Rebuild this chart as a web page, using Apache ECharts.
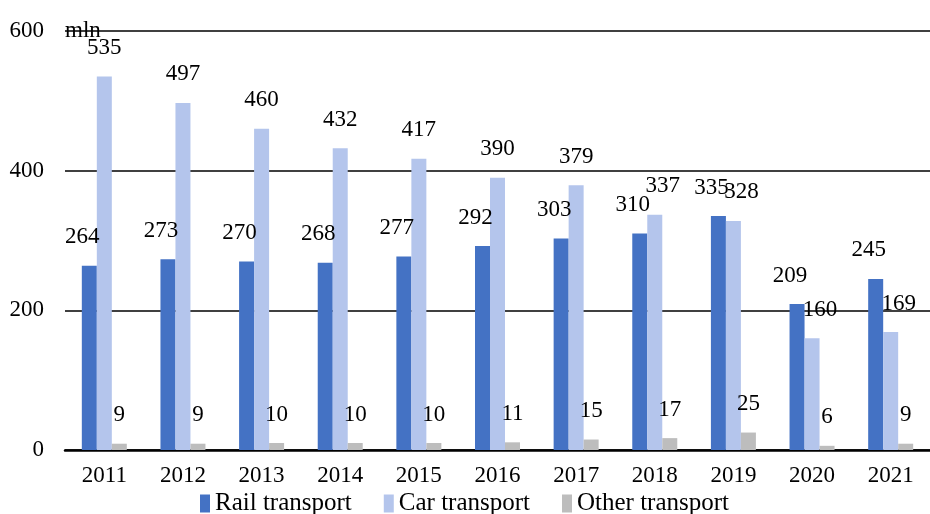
<!DOCTYPE html>
<html>
<head>
<meta charset="utf-8">
<script src="https://cdn.jsdelivr.net/npm/echarts@6/dist/echarts.min.js"></script>
<style>
  html, body { margin: 0; padding: 0; background: #fff; }
  #main { width: 930px; height: 514px; }
</style>
</head>
<body>
<div id="main"></div>
<script>
var years = ['2011', '2012', '2013', '2014', '2015', '2016', '2017', '2018', '2019', '2020', '2021'];
var rail = [264, 273, 270, 268, 277, 292, 303, 310, 335, 209, 245];
var car = [535, 497, 460, 432, 417, 390, 379, 337, 328, 160, 169];
var other = [9, 9, 10, 10, 10, 11, 15, 17, 25, 6, 9];
var yTicks = [0, 200, 400, 600];

var serif = '"Liberation Serif", "DejaVu Serif", serif';

var chart = echarts.init(document.getElementById('main'));

// car labels in the last years were nudged right in the original
var carData = car.map(function (v, i) {
  return i >= 7 ? { value: v, label: { offset: [8, 0] } } : v;
});

var option = {
  backgroundColor: '#fff',
  animation: false,
  textStyle: { fontFamily: serif },
  grid: { left: 65, top: 31, width: 871, height: 419 },
  legend: {
    left: 195,
    top: 486,
    itemWidth: 10,
    itemHeight: 18,
    itemGap: 32,
    icon: 'rect',
    textStyle: { fontFamily: serif, fontSize: 25, color: '#000' },
    data: ['Rail transport', 'Car transport', 'Other transport']
  },
  xAxis: {
    type: 'category',
    data: years,
    axisLine: { lineStyle: { color: '#000', width: 2.5 } },
    axisTick: { show: false },
    axisLabel: { fontFamily: serif, fontSize: 23, color: '#000', margin: 14 }
  },
  yAxis: {
    type: 'value',
    min: yTicks[0],
    max: yTicks[yTicks.length - 1],
    interval: 200,
    name: 'mln',
    nameLocation: 'end',
    nameGap: 0,
    nameTextStyle: { fontFamily: serif, fontSize: 23, color: '#000', align: 'left', verticalAlign: 'middle' },
    axisLine: { show: false },
    axisTick: { show: false },
    splitLine: { lineStyle: { color: '#000', width: 1.5 } },
    axisLabel: { fontFamily: serif, fontSize: 23, color: '#000', margin: 21 }
  },
  series: [
    {
      name: 'Rail transport',
      type: 'bar',
      data: rail,
      barWidth: 15,
      barGap: '0%',
      itemStyle: { color: '#4472C4' },
      label: { show: true, position: 'top', distance: 17, offset: [-7, 0], fontFamily: serif, fontSize: 23, color: '#000' }
    },
    {
      name: 'Car transport',
      type: 'bar',
      data: carData,
      barWidth: 15,
      barGap: '0%',
      itemStyle: { color: '#B4C5EC' },
      label: { show: true, position: 'top', distance: 17, fontFamily: serif, fontSize: 23, color: '#000' }
    },
    {
      name: 'Other transport',
      type: 'bar',
      data: other,
      barWidth: 15,
      barGap: '0%',
      itemStyle: { color: '#BDBDBD' },
      label: { show: true, position: 'top', distance: 17, fontFamily: serif, fontSize: 23, color: '#000' }
    }
  ]
};

chart.setOption(option);
</script>
</body>
</html>
